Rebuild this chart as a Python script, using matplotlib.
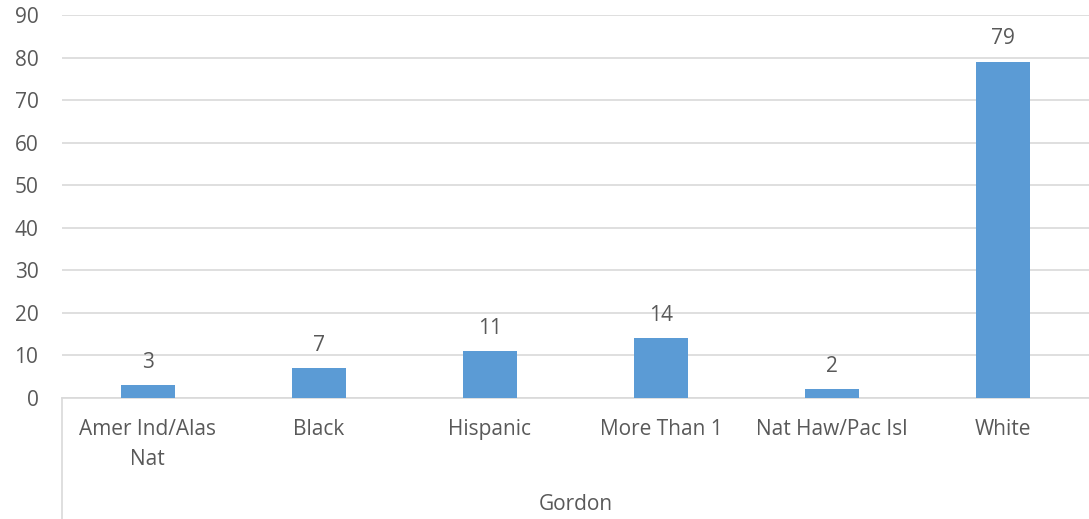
import matplotlib.pyplot as plt

# Chart data
categories = ['Amer Ind/Alas\nNat', 'Black', 'Hispanic', 'More Than 1', 'Nat Haw/Pac Isl', 'White']
values = [3, 7, 11, 14, 2, 79]
group_label = 'Gordon'
y_ticks = [0, 10, 20, 30, 40, 50, 60, 70, 80, 90]

BAR_COLOR = '#5B9BD5'
TEXT_COLOR = '#595959'
GRID_COLOR = '#D9D9D9'
FS = 15

plt.rcParams['font.family'] = ['Open Sans', 'DejaVu Sans']

W, H = 1089, 519
fig = plt.figure(figsize=(W / 100, H / 100), dpi=100)
left, right, bottom, top = 62, 1089, 398, 15
ax = fig.add_axes([left / W, 1 - bottom / H, (right - left) / W, (bottom - top) / H])

x = list(range(len(categories)))
bars = ax.bar(x, values, width=0.315, color=BAR_COLOR, zorder=3)

# Data labels above each bar
for xi, v in zip(x, values):
    ax.annotate(str(v), (xi, v), xytext=(0, 9), textcoords='offset points',
                ha='center', va='bottom', fontsize=FS, color=TEXT_COLOR)

ax.set_xlim(-0.5, len(categories) - 0.5)
ax.set_ylim(0, 90)
ax.set_yticks(y_ticks)
ax.yaxis.grid(True, color=GRID_COLOR, linewidth=1.2, zorder=0)
ax.tick_params(axis='y', length=0, pad=17, labelsize=FS, labelcolor=TEXT_COLOR)
ax.tick_params(axis='x', length=0, pad=15, labelsize=FS, labelcolor=TEXT_COLOR)
ax.set_xticks(x)
ax.set_xticklabels(categories, linespacing=1.55)
for tl in ax.get_xticklabels():
    tl.set_verticalalignment('top')

for s in ['top', 'right', 'left']:
    ax.spines[s].set_visible(False)
ax.spines['bottom'].set_color(GRID_COLOR)
ax.spines['bottom'].set_linewidth(1.2)

# Multi-level category axis: outer group label and left divider line
fig.add_artist(plt.Line2D([left / W, left / W], [0, 1 - bottom / H],
                          color=GRID_COLOR, linewidth=1.2))
fig.text((left + right) / 2 / W, 1 - 505 / H, group_label, ha='center', va='center',
         fontsize=FS, color=TEXT_COLOR)

fig.savefig('out.png', dpi=100)
